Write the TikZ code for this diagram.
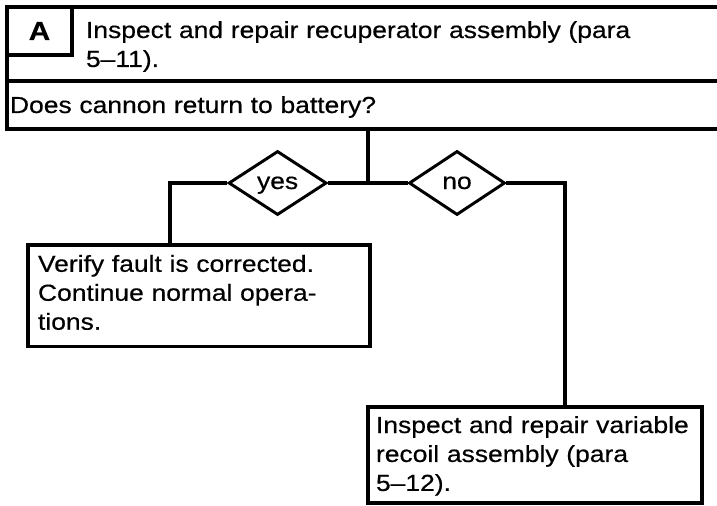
\documentclass[tikz,border=0pt]{standalone}
\usepackage{fontspec}
\setmainfont[FakeStretch=1.14, FakeBold=0.5]{Liberation Sans}
\usetikzlibrary{shapes.geometric, positioning}

\begin{document}
\begin{tikzpicture}[
    every node/.style={font=\fontsize{16.5pt}{20.6pt}\selectfont},
    frame/.style={draw, line width=2.3pt, outer sep=0pt, inner ysep=0pt, align=left, anchor=north west},
    choice/.style={draw, diamond, line width=2.1pt, inner sep=0pt, text height=0.3cm, text depth=0pt, minimum width=2.45cm, minimum height=1.6cm},
    wire/.style={line width=2.2pt}
  ]
  \useasboundingbox (0,0) rectangle (17.925,-12.65);
  \clip (0,0) rectangle (17.925,-12.65);

  % header rows
  \node[frame, inner xsep=1.975cm, text width=15cm, text height=0.775cm, text depth=1.075cm] (step) at (0.175,-0.175) {Inspect and repair recuperator assembly (para\\5--11).};
  \node[frame, minimum width=1.625cm, minimum height=1.2cm, align=center, font=\fontsize{18.5pt}{20pt}\selectfont\bfseries] (tag) at (step.north west) {A};
  \node[frame, inner xsep=0.075cm, text width=18cm, text height=0.8cm, text depth=0.4cm] (ask) at (step.south west) {Does cannon return to battery?};

  % decision
  \coordinate (hub) at (9.2,-4.575);
  \node[choice] (yes) at (6.94,-4.575) {yes};
  \node[choice, minimum width=2.4cm] (no) at (11.425,-4.575) {no};

  % outcomes
  \node[frame, inner xsep=0.25cm, text width=8.05cm, text height=0.67cm, text depth=1.875cm] (ok) at (0.7,-6.125) {Verify fault is corrected.\\Continue normal opera-\\tions.};
  \node[frame, inner xsep=0.2cm, text width=7.95cm, text height=0.65cm, text depth=1.75cm] (recoil) at (9.2,-10.175) {Inspect and repair variable\\recoil assembly (para\\5--12).};

  \draw[wire] (ask.south -| hub) -- (hub);
  \draw[wire] (yes) -- (no);
  \draw[wire] (yes.west) -| ([xshift=3.55cm]ok.north west);
  \draw[wire] (no.east) -| ([xshift=4.925cm]recoil.north west);
\end{tikzpicture}
\end{document}
